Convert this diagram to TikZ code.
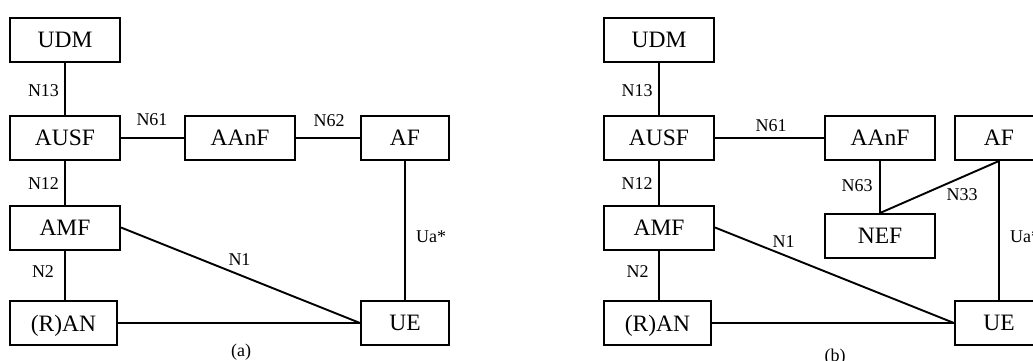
\documentclass[tikz,border=0pt]{standalone}
\usepackage{fontspec}
\setmainfont{Liberation Serif}
\begin{document}
\begin{tikzpicture}[x=1pt,y=-1pt,
  nf/.style={draw,line width=2pt,inner sep=0pt,minimum width=110pt,minimum height=44pt,
    font=\fontsize{23.5}{24}\selectfont,text depth=0pt},
  nfs/.style={nf,minimum width=88pt},
  lbl/.style={inner sep=0pt,font=\fontsize{18}{18}\selectfont},
  cn/.style={line width=1.9pt}]
\useasboundingbox (0,0) rectangle (1033,361);
% ---------- panel (a)
\node[nf] (udmA) at (65,40) {UDM};
\node[nf] (ausfA) at (65,138) {AUSF};
\node[nf] (amfA) at (65,227.5) {AMF};
\node[nf,minimum width=107pt] (ranA) at (63.5,323) {(R)AN};
\node[nf] (aanfA) at (240,138) {AAnF};
\node[nfs] (afA) at (405,138) {AF};
\node[nfs] (ueA) at (405,323) {UE};
\draw[cn] (udmA.south) -- (ausfA.north);
\draw[cn] (ausfA.south) -- (amfA.north);
\draw[cn] (amfA.south) -- (amfA.south |- ranA.north);
\draw[cn] (ausfA.east) -- (aanfA.west);
\draw[cn] (aanfA.east) -- (afA.west);
\draw[cn] (afA.south) -- (ueA.north);
\draw[cn] (amfA.east) -- (ueA.west);
\draw[cn] (ranA.east) -- (ueA.west);
\node[lbl] (n13A) at (43.5,91) {N13};
\node[lbl] (n12A) at (43.5,184) {N12};
\node[lbl] (n2A) at (43,271.5) {N2};
\node[lbl] (n61A) at (152,120) {N61};
\node[lbl] (n62A) at (329,120.5) {N62};
\node[lbl] (n1A) at (239.5,259.5) {N1};
\node[lbl,anchor=west] (uaA) at (416,237) {Ua*};
\node[lbl] (capA) at (241,352) {(a)};
% ---------- panel (b)
\node[nf] (udmB) at (659,40) {UDM};
\node[nf] (ausfB) at (659,138) {AUSF};
\node[nf] (amfB) at (659,227.5) {AMF};
\node[nf,minimum width=107pt] (ranB) at (657.5,323) {(R)AN};
\node[nf] (aanfB) at (880,138) {AAnF};
\node[nf] (nefB) at (880,236) {NEF};
\node[nfs] (afB) at (999,138) {AF};
\node[nfs] (ueB) at (999,323) {UE};
\draw[cn] (udmB.south) -- (ausfB.north);
\draw[cn] (ausfB.south) -- (amfB.north);
\draw[cn] (amfB.south) -- (amfB.south |- ranB.north);
\draw[cn] (ausfB.east) -- (aanfB.west);
\draw[cn] (aanfB.south) -- (nefB.north);
\draw[cn] (nefB.north) -- (afB.south);
\draw[cn] (afB.south) -- (ueB.north);
\draw[cn] (amfB.east) -- (ueB.west);
\draw[cn] (ranB.east) -- (ueB.west);
\node[lbl] (n13B) at (637,91) {N13};
\node[lbl] (n12B) at (637,184) {N12};
\node[lbl] (n2B) at (637.5,271.5) {N2};
\node[lbl] (n61B) at (771,125.5) {N61};
\node[lbl] (n63B) at (857,185.5) {N63};
\node[lbl] (n33B) at (962,194.5) {N33};
\node[lbl] (n1B) at (783.5,242) {N1};
\node[lbl,anchor=west] (uaB) at (1010,237) {Ua*};
\node[lbl] (capB) at (835,357) {(b)};
\end{tikzpicture}
\end{document}
